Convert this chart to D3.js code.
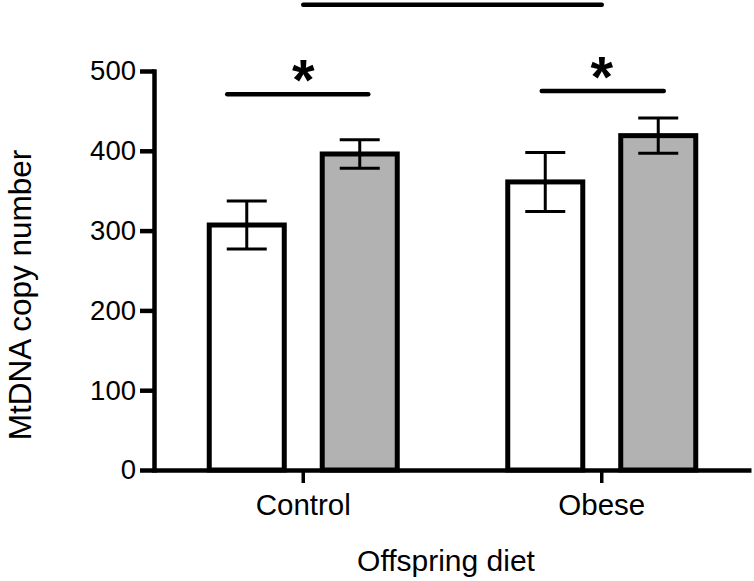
<!DOCTYPE html>
<html>
<head>
<meta charset="utf-8">
<script src="https://cdn.jsdelivr.net/npm/d3@7"></script>
<style>
  html, body { margin: 0; padding: 0; background: #fff; }
  svg { display: block; }
  text { font-family: "Liberation Sans", Arial, sans-serif; fill: #000; }
</style>
</head>
<body>
<svg id="chart" width="754" height="581"></svg>
<script>
// ---- data ----
const categories = ["Control", "Obese"];
const series = ["Control mother", "Obese mother"];
const means = [[307, 396], [361, 419]];      // [category][series]
const errors = [[30, 18], [37, 22]];
const seriesFill = ["#ffffff", "#b2b2b2"];
const yTicks = [0, 100, 200, 300, 400, 500];
const yLabel = "MtDNA copy number";
const xLabel = "Offspring diet";
// significance brackets: category, value level, left/right span (px around category centre)
const sigWithin = [
  { cat: "Control", level: 471, left: 76, right: 65, label: "*" },
  { cat: "Obese", level: 475, left: 60, right: 62, label: "*" }
];
const sigBetween = { from: "Control", to: "Obese", level: 583 };

// ---- layout ----
const svg = d3.select("#chart");
const y = d3.scaleLinear().domain([0, 500]).range([470, 71]);
const x = d3.scaleBand().domain(categories).range([154, 751]).paddingInner(0).paddingOuter(0);
const xs = d3.scaleBand().domain(series).range([-94, 94]).paddingInner(0.336).paddingOuter(0);
const cx = c => x(c) + x.bandwidth() / 2;

// bars
const rows = [];
categories.forEach((c, i) => series.forEach((s, j) => rows.push({ c, s, j, m: means[i][j], e: errors[i][j] })));

const g = svg.append("g");
g.selectAll("rect.bar").data(rows).enter().append("rect")
  .attr("class", "bar")
  .attr("x", d => cx(d.c) + xs(d.s))
  .attr("width", xs.bandwidth())
  .attr("y", d => y(d.m))
  .attr("height", d => y(0) - y(d.m))
  .attr("fill", d => seriesFill[d.j])
  .attr("stroke", "#000")
  .attr("stroke-width", 5);

// error bars
const capW = 40;
const eb = g.selectAll("g.err").data(rows).enter().append("g").attr("class", "err")
  .attr("stroke", "#000").attr("stroke-width", 3);
eb.append("line")
  .attr("x1", d => cx(d.c) + xs(d.s) + xs.bandwidth() / 2)
  .attr("x2", d => cx(d.c) + xs(d.s) + xs.bandwidth() / 2)
  .attr("y1", d => y(d.m - d.e)).attr("y2", d => y(d.m + d.e));
[1, -1].forEach(sign => {
  eb.append("line")
    .attr("x1", d => cx(d.c) + xs(d.s) + xs.bandwidth() / 2 - capW / 2)
    .attr("x2", d => cx(d.c) + xs(d.s) + xs.bandwidth() / 2 + capW / 2)
    .attr("y1", d => y(d.m + sign * d.e)).attr("y2", d => y(d.m + sign * d.e));
});

// y axis
const yAxis = g.append("g").attr("transform", "translate(154,0)")
  .call(d3.axisLeft(y).tickValues(yTicks).tickSize(14).tickSizeOuter(0).tickPadding(4));
yAxis.select(".domain").attr("stroke-width", 4.5).attr("stroke-linecap", "square");
yAxis.selectAll(".tick line").attr("stroke-width", 4.5);
yAxis.selectAll(".tick text").attr("font-size", 27.5).attr("font-family", "Liberation Sans, Arial, sans-serif");

// x axis
const xAxis = g.append("g").attr("transform", "translate(0,470)")
  .call(d3.axisBottom(x).tickSize(13).tickSizeOuter(0).tickPadding(11));
xAxis.select(".domain").attr("stroke-width", 4.5);
xAxis.selectAll(".tick line").attr("stroke-width", 3.5);
xAxis.selectAll(".tick text").attr("font-size", 29.5).attr("font-family", "Liberation Sans, Arial, sans-serif");

// axis titles
svg.append("text")
  .attr("transform", "translate(31,295) rotate(-90)")
  .attr("text-anchor", "middle").attr("font-size", 31.5)
  .text(yLabel);
svg.append("text")
  .attr("x", 446).attr("y", 571)
  .attr("text-anchor", "middle").attr("font-size", 30)
  .text(xLabel);

// significance
const sg = svg.append("g");
sg.selectAll("line.sig").data(sigWithin).enter().append("line")
  .attr("x1", d => cx(d.cat) - d.left).attr("x2", d => cx(d.cat) + d.right)
  .attr("y1", d => y(d.level)).attr("y2", d => y(d.level))
  .attr("stroke", "#000").attr("stroke-width", 4.5).attr("stroke-linecap", "round");
sg.selectAll("text.star").data(sigWithin).enter().append("text")
  .attr("x", d => cx(d.cat)).attr("y", d => y(d.level) + 6)
  .attr("text-anchor", "middle").attr("font-size", 58).attr("font-weight", "bold")
  .text(d => d.label);
sg.append("line")
  .attr("x1", cx(sigBetween.from)).attr("x2", cx(sigBetween.to))
  .attr("y1", y(sigBetween.level)).attr("y2", y(sigBetween.level))
  .attr("stroke", "#000").attr("stroke-width", 4.5).attr("stroke-linecap", "round");
</script>
</body>
</html>
